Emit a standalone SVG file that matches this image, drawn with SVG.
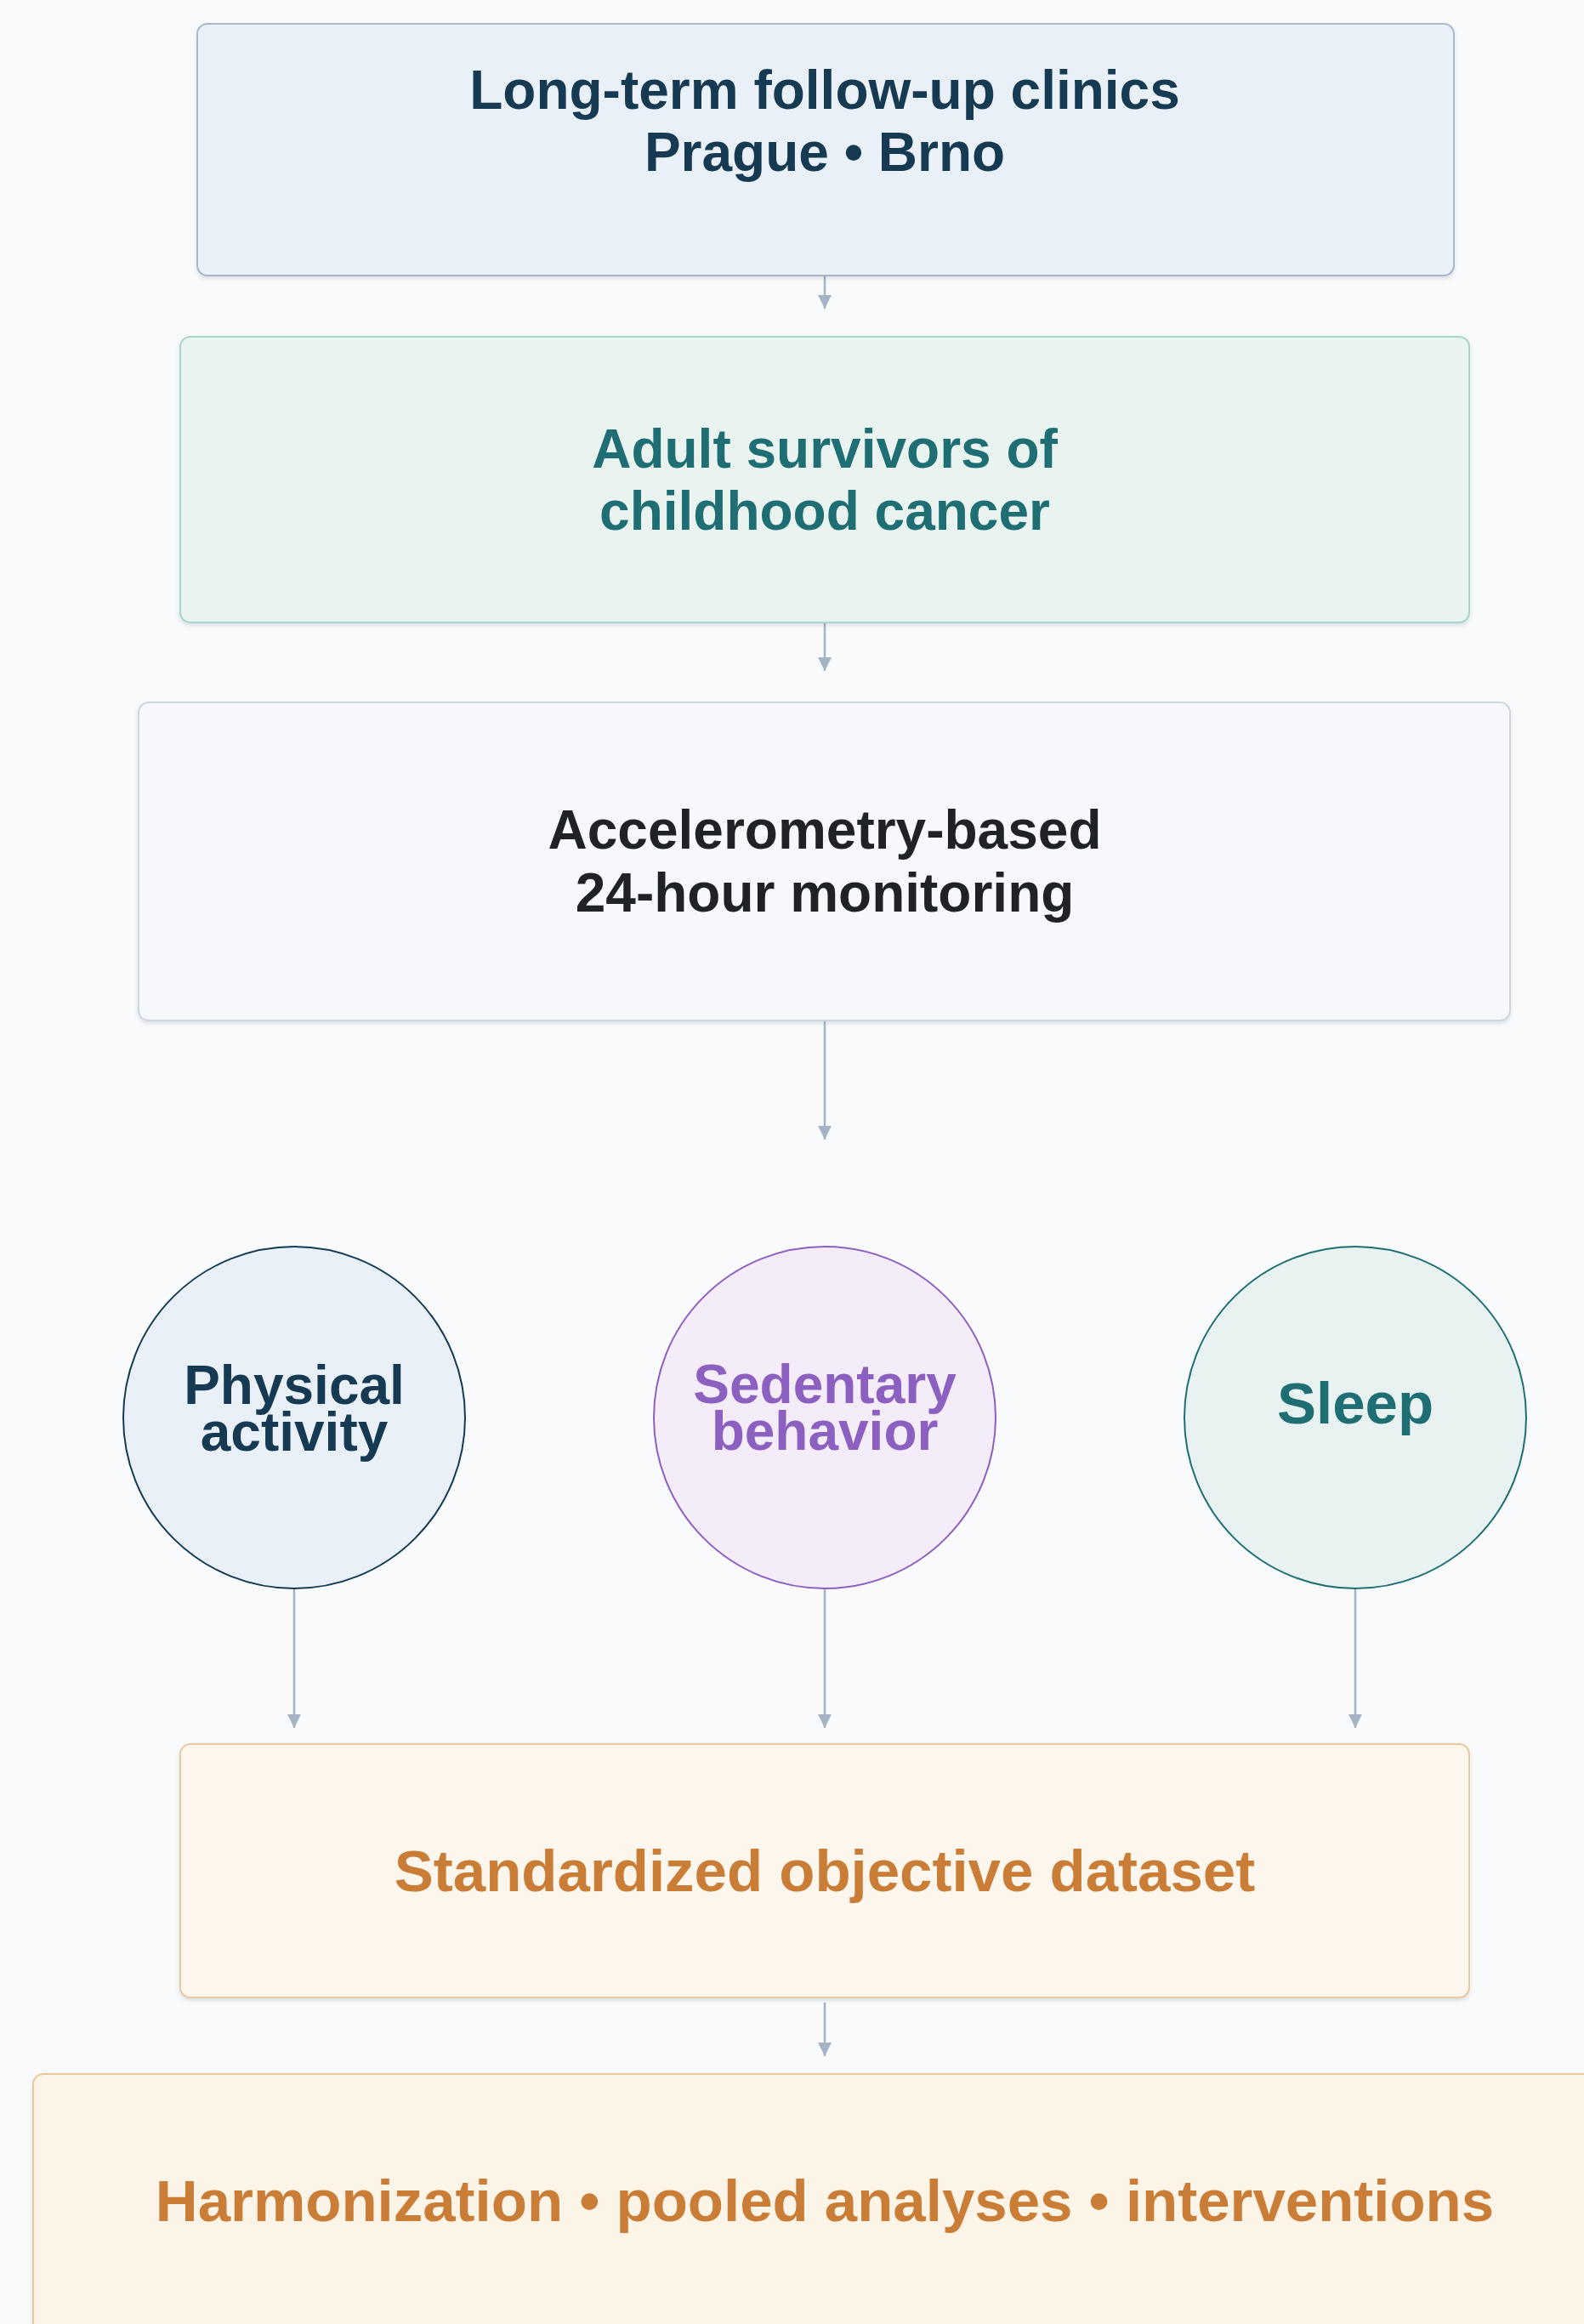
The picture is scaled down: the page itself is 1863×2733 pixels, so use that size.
<svg xmlns="http://www.w3.org/2000/svg" width="1863" height="2733" viewBox="0 0 1863 2733">
<defs>
<style>
.t{font-family:"Liberation Sans",Arial,Helvetica,sans-serif;font-weight:bold;text-anchor:middle}
.s64{font-size:64px}
.s69{font-size:69px}
.conn{stroke:#a5b4c3;stroke-width:2.5;fill:none}
</style>
<marker id="ah" viewBox="0 0 16 16" refX="16" refY="8" markerWidth="16" markerHeight="16" markerUnits="userSpaceOnUse" orient="auto">
<path d="M0,0 L16,8 L0,16 Z" fill="#a5b4c3"/>
</marker>
<filter id="sh" x="-5%" y="-5%" width="110%" height="115%">
<feDropShadow dx="0" dy="3" stdDeviation="2" flood-color="#5a6b7d" flood-opacity="0.18"/>
</filter>
</defs>
<rect x="0" y="0" width="1863" height="2733" fill="#f8fafc"/>

<g id="connectors">
<line class="conn" x1="970" y1="325" x2="970" y2="363" marker-end="url(#ah)"/>
<line class="conn" x1="970" y1="732" x2="970" y2="789" marker-end="url(#ah)"/>
<line class="conn" x1="970" y1="1200" x2="970" y2="1340" marker-end="url(#ah)"/>
<line class="conn" x1="346" y1="1868" x2="346" y2="2032" marker-end="url(#ah)"/>
<line class="conn" x1="970" y1="1868" x2="970" y2="2032" marker-end="url(#ah)"/>
<line class="conn" x1="1594" y1="1868" x2="1594" y2="2032" marker-end="url(#ah)"/>
<line class="conn" x1="970" y1="2355" x2="970" y2="2418" marker-end="url(#ah)"/>
</g>

<g id="clinics">
<rect x="232" y="28" width="1478" height="296" rx="12" fill="#eaf0f7" stroke="#a9b8ca" stroke-width="2" filter="url(#sh)"/>
<text class="t s64" x="970" y="128" fill="#153a52">Long-term follow-up clinics</text>
<text class="t s64" x="970" y="201" fill="#153a52">Prague • Brno</text>
</g>

<g id="survivors">
<rect x="212" y="396" width="1516" height="336" rx="12" fill="#e9f4f1" stroke="#a9d4cc" stroke-width="2" filter="url(#sh)"/>
<text class="t s64" x="970" y="550" fill="#1e6e73">Adult survivors of</text>
<text class="t s64" x="970" y="623" fill="#1e6e73">childhood cancer</text>
</g>

<g id="monitoring">
<rect x="163" y="826" width="1613" height="374" rx="12" fill="#f6f8fb" stroke="#cdd6df" stroke-width="2" filter="url(#sh)"/>
<text class="t s64" x="970" y="998" fill="#1f2328">Accelerometry-based</text>
<text class="t s64" x="970" y="1072" fill="#1f2328">24-hour monitoring</text>
</g>

<g id="physical-activity">
<circle cx="346" cy="1667" r="201" fill="#eaf0f7" stroke="#153a52" stroke-width="2"/>
<text class="t s64" x="346" y="1651" fill="#153a52">Physical</text>
<text class="t s64" x="346" y="1706" fill="#153a52">activity</text>
</g>

<g id="sedentary-behavior">
<circle cx="970" cy="1667" r="201" fill="#f4ecf8" stroke="#8b60c1" stroke-width="2"/>
<text class="t s64" x="970" y="1650" fill="#8b60c1">Sedentary</text>
<text class="t s64" x="970" y="1705" fill="#8b60c1">behavior</text>
</g>

<g id="sleep">
<circle cx="1594" cy="1667" r="201" fill="#e8f3f1" stroke="#1e6e73" stroke-width="2"/>
<text class="t s69" x="1594" y="1674" fill="#1e6e73">Sleep</text>
</g>

<g id="dataset">
<rect x="212" y="2051" width="1516" height="298" rx="12" fill="#fdf6ec" stroke="#e8c9a0" stroke-width="2" filter="url(#sh)"/>
<text class="t s69" x="970" y="2224" fill="#c97d36">Standardized objective dataset</text>
</g>

<g id="harmonization">
<rect x="39" y="2439" width="1862" height="320" rx="12" fill="#fdf4e8" stroke="#e8c9a0" stroke-width="2" filter="url(#sh)"/>
<text class="t s69" x="970" y="2612" fill="#c97d36">Harmonization • pooled analyses • interventions</text>
</g>
</svg>
